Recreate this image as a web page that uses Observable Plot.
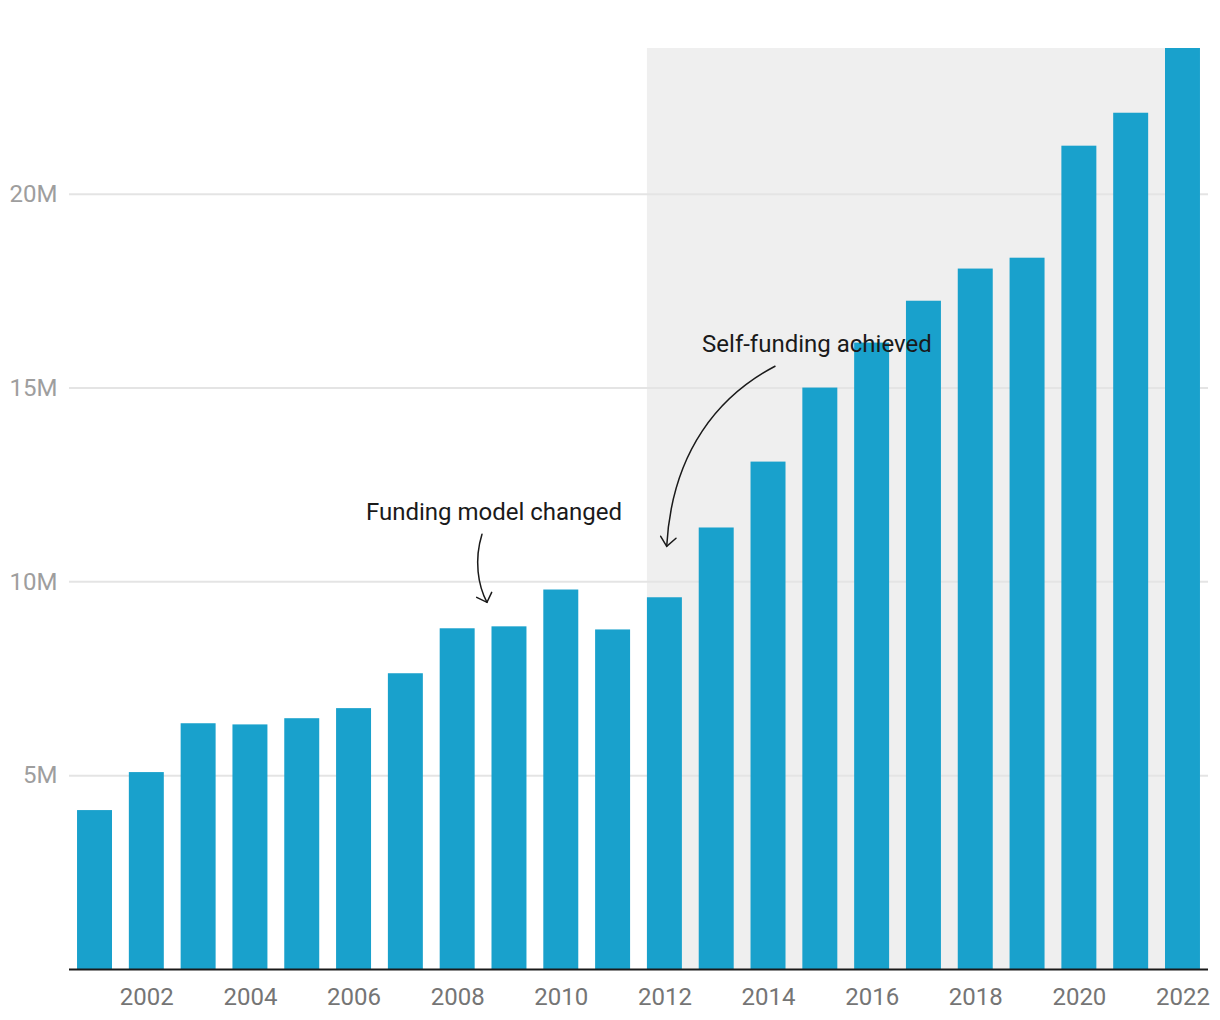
<!DOCTYPE html>
<html>
<head>
<meta charset="utf-8">
<script src="https://cdn.jsdelivr.net/npm/d3@7"></script>
<script src="https://cdn.jsdelivr.net/npm/@observablehq/plot@0.6"></script>
<style>
  html, body { margin: 0; padding: 0; background: #fff; }
  #chart svg { display: block; }
</style>
</head>
<body>
<div id="chart"></div>
<script>
// ---- Data ----
const years = ["2001","2002","2003","2004","2005","2006","2007","2008","2009","2010","2011",
               "2012","2013","2014","2015","2016","2017","2018","2019","2020","2021","2022"];
// values in millions
const values = [4.10, 5.08, 6.34, 6.31, 6.47, 6.73, 7.63, 8.79, 8.84, 9.79, 8.76,
                9.59, 11.39, 13.09, 15.00, 16.16, 17.24, 18.07, 18.35, 21.24, 22.09, 23.76];
const xTickLabels = ["2002","2004","2006","2008","2010","2012","2014","2016","2018","2020","2022"];
const yTickValues = [5, 10, 15, 20];
const shadedFrom = "2012";
const shadedTo = "2022";
const annotationTexts = ["Funding model changed", "Self-funding achieved"];
const annotationYears = ["2009", "2012"];

const data = years.map((year, i) => ({year, value: values[i]}));
const valueOf = (yr) => values[years.indexOf(yr)];

// annotation layout (pixel offsets from the annotated bar's top centre)
const annotationStyle = [
  {dx: -15.5, dy: -114.5,
   path: [[-27,-92],[-35,-66],[-31,-41],[-22,-24]], wings: [[-10.3,-5],[4.7,-10]]},
  {dx: 152, dy: -253,
   path: [[110.6,-231],[55.6,-202],[7.6,-147],[2.3,-51]], wings: [[-6,-10],[9.3,-8]]}
];
const annotations = annotationTexts.map((text, i) => ({
  text, year: annotationYears[i], value: valueOf(annotationYears[i]), ...annotationStyle[i]
}));

const yMax = d3.max(values);

// shaded background drawn through the scales
function shade(index, {x, y}) {
  const g = d3.create("svg:g");
  const x0 = x(shadedFrom);
  const x1 = x(shadedTo) + x.bandwidth();
  g.append("rect")
    .attr("x", x0).attr("width", x1 - x0)
    .attr("y", y(yMax)).attr("height", y(0) - y(yMax))
    .attr("fill", "#efefef");
  return g.node();
}

function arrows(index, {x, y}) {
  const g = d3.create("svg:g")
    .attr("fill", "none").attr("stroke", "#1a1a1a")
    .attr("stroke-width", 1.5).attr("stroke-linecap", "round");
  for (const a of annotations) {
    const ax = x(a.year) + x.bandwidth() / 2;
    const ay = y(a.value);
    const p = a.path.map(([px, py]) => [ax + px, ay + py]);
    g.append("path").attr("d",
      `M${p[0]}C${p[1]} ${p[2]} ${p[3]}`);
    const [ex, ey] = p[3];
    g.append("path").attr("d",
      `M${ex + a.wings[0][0]},${ey + a.wings[0][1]}L${ex},${ey}L${ex + a.wings[1][0]},${ey + a.wings[1][1]}`);
  }
  return g.node();
}

const annotationTextMarks = annotations.map(a =>
  Plot.text([a], {x: "year", y: "value", text: "text", dx: a.dx, dy: a.dy,
    fontSize: 24, fill: "#1a1a1a"}));

const chart = Plot.plot({
  width: 1220,
  height: 1020,
  marginTop: 48,
  marginBottom: 51,
  marginLeft: 69,
  marginRight: 12,
  style: {fontFamily: "Roboto, sans-serif", background: "#fff", overflow: "visible"},
  x: {domain: years, paddingInner: 0.325, paddingOuter: 0.155, round: false, label: null},
  y: {domain: [0, yMax], label: null},
  marks: [
    shade,
    Plot.gridY(yTickValues, {stroke: "#e4e4e4", strokeOpacity: 1, strokeWidth: 2}),
    Plot.barY(data, {x: "year", y: "value", fill: "#19a1cc"}),
    Plot.ruleY([0], {stroke: "#1a1a1a", strokeWidth: 2}),
    Plot.axisX(xTickLabels, {tickSize: 0, tickPadding: 18, fontSize: 24, fill: "#757575", label: null}),
    Plot.axisY(yTickValues, {tickSize: 0, tickPadding: 12, fontSize: 24, fill: "#9e9e9e",
      tickFormat: d => d + "M", label: null}),
    arrows,
    ...annotationTextMarks
  ]
});
document.getElementById("chart").append(chart);
</script>
</body>
</html>
